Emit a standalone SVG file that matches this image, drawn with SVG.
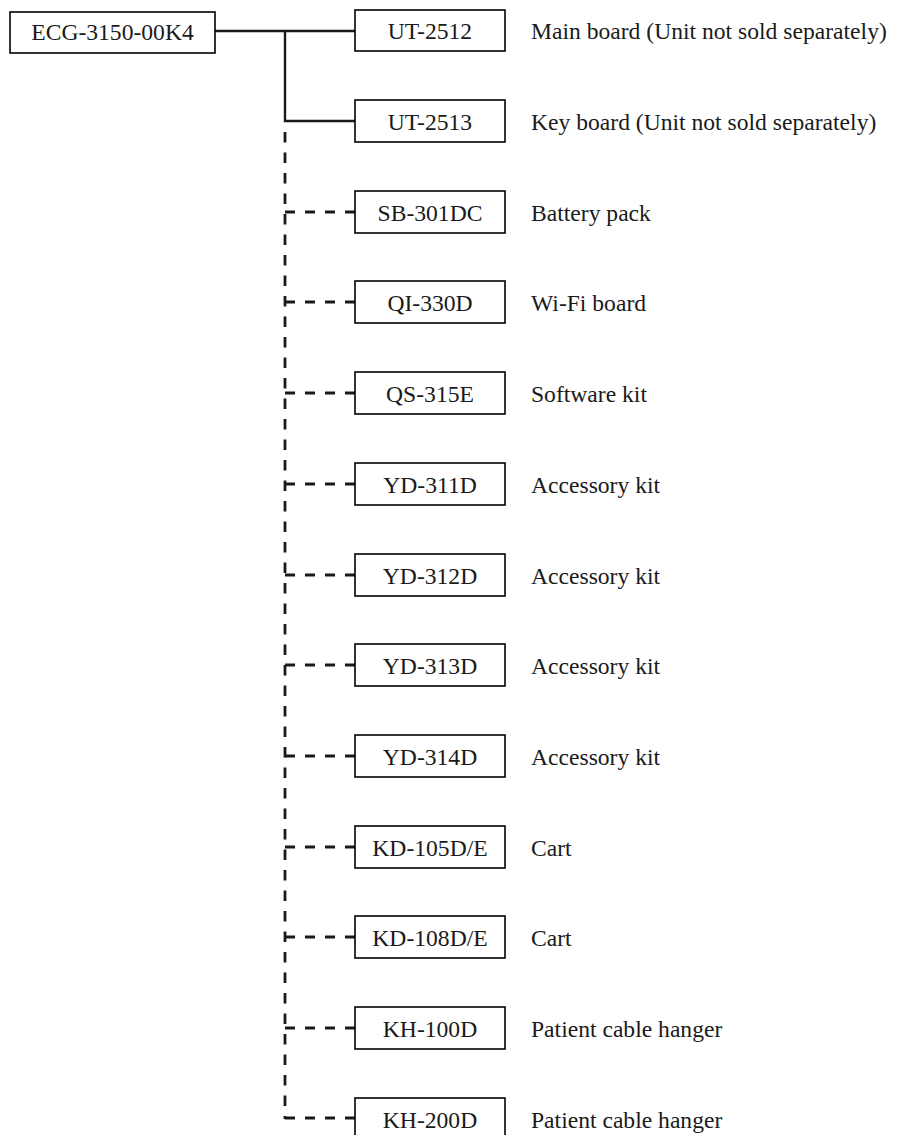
<svg xmlns="http://www.w3.org/2000/svg" width="897" height="1135" viewBox="0 0 897 1135">
<style>
.box{fill:#fff;stroke:#000;stroke-width:1.6}
.t{font-family:"Liberation Serif","Times New Roman",serif;font-size:23.6px;fill:#1a1a1a}
.c{text-anchor:middle}
.solid{fill:none;stroke:#1a1a1a;stroke-width:2.4}
.dash{fill:none;stroke:#1a1a1a;stroke-width:2.8;stroke-dasharray:10.5 10}
.hd{fill:none;stroke:#1a1a1a;stroke-width:2.8;stroke-dasharray:10 10}
</style>
<g id="connectors">
<path class="solid" d="M215 31H355M285 31V121H355"/>
<path class="dash" d="M285 132V1119"/>
<path class="hd" d="M285 212H355M285 302H355M285 393H355M285 484H355M285 575H355M285 665H355M285 756H355M285 847H355M285 937H355M285 1028H355M285 1118H355"/>
</g>
<g id="ECG-3150-00K4"><rect class="box" x="10" y="12" width="205" height="41"/><text class="t c" x="112.5" y="40">ECG-3150-00K4</text></g>
<g id="UT-2512"><rect class="box" x="355" y="10" width="150" height="41"/><text class="t c" x="430" y="39">UT-2512</text><text class="t" x="531" y="39">Main board (Unit not sold separately)</text></g>
<g id="UT-2513"><rect class="box" x="355" y="100" width="150" height="42"/><text class="t c" x="430" y="130">UT-2513</text><text class="t" x="531" y="130">Key board (Unit not sold separately)</text></g>
<g id="SB-301DC"><rect class="box" x="355" y="191" width="150" height="42"/><text class="t c" x="430" y="221">SB-301DC</text><text class="t" x="531" y="221">Battery pack</text></g>
<g id="QI-330D"><rect class="box" x="355" y="281" width="150" height="42"/><text class="t c" x="430" y="311">QI-330D</text><text class="t" x="531" y="311">Wi-Fi board</text></g>
<g id="QS-315E"><rect class="box" x="355" y="372" width="150" height="42"/><text class="t c" x="430" y="402">QS-315E</text><text class="t" x="531" y="402">Software kit</text></g>
<g id="YD-311D"><rect class="box" x="355" y="463" width="150" height="42"/><text class="t c" x="430" y="493">YD-311D</text><text class="t" x="531" y="493">Accessory kit</text></g>
<g id="YD-312D"><rect class="box" x="355" y="554" width="150" height="42"/><text class="t c" x="430" y="584">YD-312D</text><text class="t" x="531" y="584">Accessory kit</text></g>
<g id="YD-313D"><rect class="box" x="355" y="644" width="150" height="42"/><text class="t c" x="430" y="674">YD-313D</text><text class="t" x="531" y="674">Accessory kit</text></g>
<g id="YD-314D"><rect class="box" x="355" y="735" width="150" height="42"/><text class="t c" x="430" y="765">YD-314D</text><text class="t" x="531" y="765">Accessory kit</text></g>
<g id="KD-105D-E"><rect class="box" x="355" y="826" width="150" height="42"/><text class="t c" x="430" y="856">KD-105D/E</text><text class="t" x="531" y="856">Cart</text></g>
<g id="KD-108D-E"><rect class="box" x="355" y="916" width="150" height="42"/><text class="t c" x="430" y="946">KD-108D/E</text><text class="t" x="531" y="946">Cart</text></g>
<g id="KH-100D"><rect class="box" x="355" y="1007" width="150" height="42"/><text class="t c" x="430" y="1037">KH-100D</text><text class="t" x="531" y="1037">Patient cable hanger</text></g>
<g id="KH-200D"><rect class="box" x="355" y="1098" width="150" height="42"/><text class="t c" x="430" y="1128">KH-200D</text><text class="t" x="531" y="1128">Patient cable hanger</text></g>
</svg>
